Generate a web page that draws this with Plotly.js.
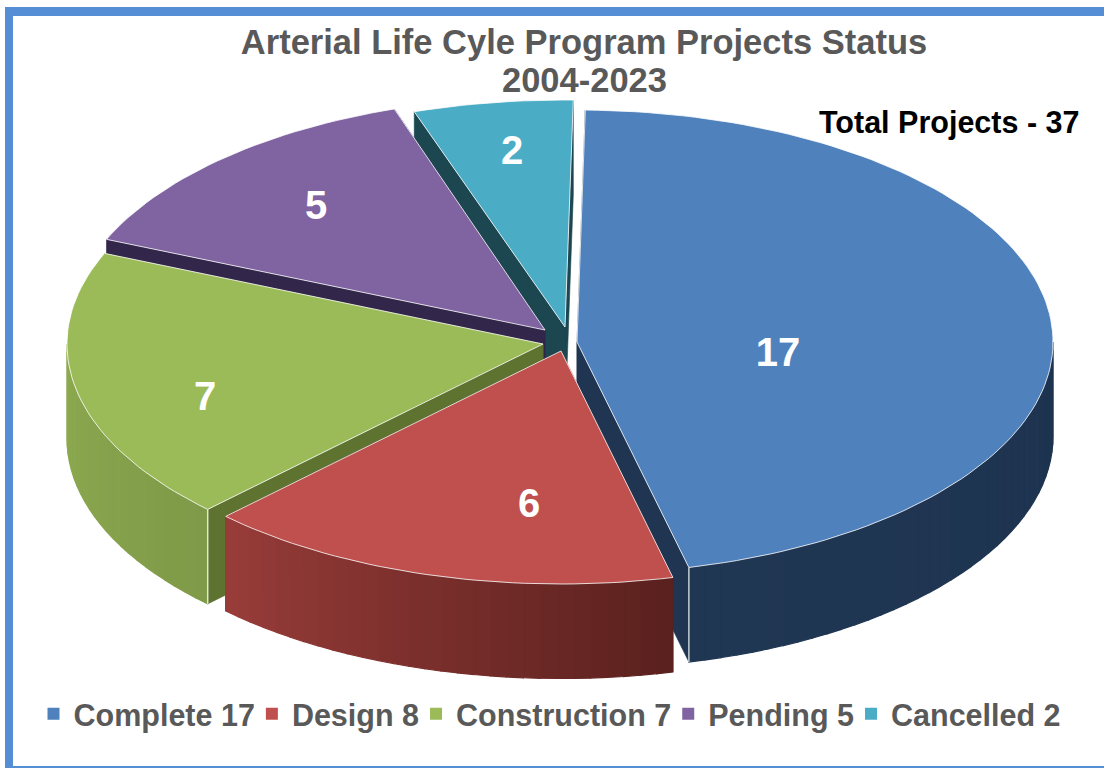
<!DOCTYPE html>
<html><head><meta charset="utf-8">
<script src="https://cdn.plot.ly/plotly-3.0.1.min.js"></script>
<style>html,body{margin:0;padding:0;background:#fff}#c{width:1104px;height:768px}</style>
</head><body><div id="c"></div>
<script>
// Data
const categories = ['Complete','Design','Construction','Pending','Cancelled'];
const sliceValues = [17,6,7,5,2];
const legendLabels = ['Complete 17','Design 8','Construction 7','Pending 5','Cancelled 2'];
const totalLabel = 'Total Projects - 37';
const titleLines = ['Arterial Life Cyle Program Projects Status','2004-2023'];

// Style / projection (separate from data)
const topColors = ['#4F81BD','#C0504D','#9BBB59','#8064A2','#4BACC6'];
const cutColors = ['#1F3552','#5A211E','#5F7330','#32264A','#1C4650'];
const rimFrom = ['#1D3350','#5A211E','#7F9A48','#32264A','#1C4650'];
const rimTo   = ['#203754','#983C39','#8DAA50','#32264A','#1C4650'];
const tipX = [577,561,543,545,565];
const tipY = [342,351,344,330,327];
const radX = 476, radY = [232,233,233,233,227], depth = 94.5, startDeg = 1;
const labelX = [778,529,205,316,512], labelY = [356,507,400,209,154];
const paintOrder = [4,3,2,0,1];
const fontFamily = 'Liberation Sans, Arial, sans-serif';

const total = sliceValues.reduce((a,b)=>a+b,0);
const starts = [], ends = [];
let acc = startDeg;
sliceValues.forEach(v=>{starts.push(acc); acc += 360*v/total; ends.push(acc);});
const rad = d=>d*Math.PI/180;
const px = (i,d)=>tipX[i]+radX*Math.sin(rad(d));
const py = (i,d)=>tipY[i]-radY[i]*Math.cos(rad(d));
const hex = c=>[1,3,5].map(k=>parseInt(c.substr(k,2),16));
const mix = (a,b,t)=>{const A=hex(a),B=hex(b);return 'rgb('+A.map((v,k)=>Math.round(v+(B[k]-v)*t)).join(',')+')';};
const poly = (xs,ys,fill,line,w)=>({type:'scatter',mode:'lines',x:xs.concat(xs[0]),y:ys.concat(ys[0]),fill:'toself',fillcolor:fill,
  line:{color:line||fill,width:w===undefined?1.2:w},hoverinfo:'skip',showlegend:false});
const traces = [];
paintOrder.forEach(i=>{
  // cut faces
  [starts[i],ends[i]].forEach(d=>{
    traces.push(poly([tipX[i],px(i,d),px(i,d),tipX[i]],[tipY[i],py(i,d),py(i,d)+depth,tipY[i]+depth],cutColors[i],null,0.6));
  });
  // rim, only the front half is visible
  const a=Math.max(starts[i],90), b=Math.min(ends[i],270);
  if(b>a){
    const n=Math.max(4,Math.round((b-a)/2));
    for(let k=0;k<n;k++){
      const d0=a+(b-a)*k/n, d1=a+(b-a)*(k+1)/n, xs=[],ys=[];
      for(let s=0;s<=2;s++){const d=d0+(d1-d0)*s/2;xs.push(px(i,d));ys.push(py(i,d));}
      for(let s=2;s>=0;s--){const d=d0+(d1-d0)*s/2;xs.push(px(i,d));ys.push(py(i,d)+depth);}
      traces.push(poly(xs,ys,mix(rimFrom[i],rimTo[i],(k+.5)/n)));
    }
    // light vertical edge where the rim meets the cut face
    if(i===0||i===2){
      const ed = i===0?ends[i]:starts[i];
      traces.push({type:'scatter',mode:'lines',x:[px(i,ed),px(i,ed)],y:[py(i,ed),py(i,ed)+depth],
        line:{color:'rgba(255,255,255,0.75)',width:1.5},hoverinfo:'skip',showlegend:false});
    }
  }
  // top face
  const xs=[tipX[i]],ys=[tipY[i]];
  const m=Math.ceil((ends[i]-starts[i])/1.5);
  for(let k=0;k<=m;k++){const d=starts[i]+(ends[i]-starts[i])*k/m;xs.push(px(i,d));ys.push(py(i,d));}
  traces.push(poly(xs,ys,topColors[i],'rgba(255,255,255,0.8)',1));
});
// data labels
traces.push({type:'scatter',mode:'text',x:labelX,y:labelY,text:sliceValues.map(String),textposition:'middle center',
  textfont:{family:fontFamily,size:40,color:'#ffffff',weight:700},hoverinfo:'skip',showlegend:false});
// legend entries
categories.forEach((c,i)=>traces.push({type:'scatter',mode:'markers',x:[null],y:[null],name:legendLabels[i],
  marker:{symbol:'square',size:12,color:topColors[i]},hoverinfo:'skip',showlegend:true}));

const layout = {
  width:1104,height:768,margin:{l:0,r:0,t:0,b:0},paper_bgcolor:'#ffffff',plot_bgcolor:'#ffffff',
  xaxis:{range:[0,1104],visible:false,fixedrange:true},
  yaxis:{range:[768,0],visible:false,fixedrange:true},
  title:{text:titleLines[0],x:584/1104,xanchor:'center',y:1-42/768,yanchor:'middle',
    font:{family:fontFamily,size:34.5,color:'#595959',weight:700}},
  legend:{orientation:'h',x:554/1104,xanchor:'center',y:1-714/768,yanchor:'middle',bgcolor:'rgba(0,0,0,0)',indentation:-8,
    font:{family:fontFamily,size:30.5,color:'#595959',weight:700},itemclick:false,itemdoubleclick:false},
  annotations:[
    {text:titleLines[1],x:584,y:80,xref:'x',yref:'y',showarrow:false,xanchor:'center',yanchor:'middle',
      font:{family:fontFamily,size:34.5,color:'#595959',weight:700}},
    {text:totalLabel,x:949,y:122,xref:'x',yref:'y',showarrow:false,xanchor:'center',yanchor:'middle',
      font:{family:fontFamily,size:30.5,color:'#000000',weight:700}}],
  shapes:[
    {type:'rect',xref:'paper',yref:'paper',x0:5/1104,x1:1,y0:1-16/768,y1:1-7/768,fillcolor:'#558ED5',line:{width:0}},
    {type:'rect',xref:'paper',yref:'paper',x0:5/1104,x1:13/1104,y0:0,y1:1-7/768,fillcolor:'#558ED5',line:{width:0}},
    {type:'rect',xref:'paper',yref:'paper',x0:5/1104,x1:1,y0:0,y1:2/768,fillcolor:'#558ED5',line:{width:0}}
  ]
};
Plotly.newPlot('c',traces,layout,{displayModeBar:false,staticPlot:true});
</script></body></html>
